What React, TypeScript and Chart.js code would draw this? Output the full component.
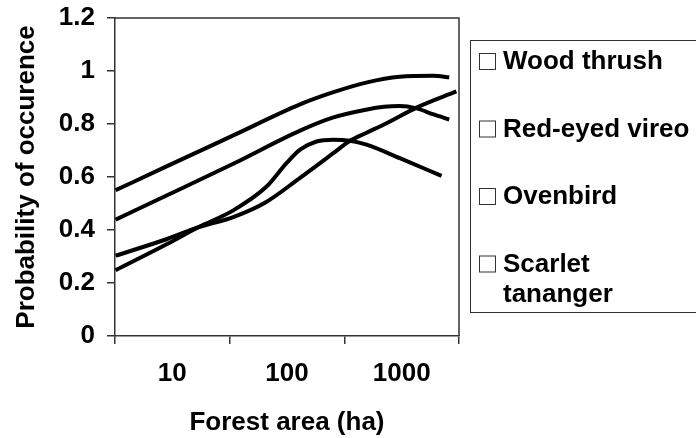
import React, { useEffect, useRef } from "react";
import { Chart, registerables } from "chart.js";

Chart.register(...registerables);

// ---- data ----
const categories = ["10", "100", "1000"];
const seriesNames = ["Wood thrush", "Red-eyed vireo", "Ovenbird", "Scarlet tananger"];

const woodThrushArea = [3.2, 9, 34, 130, 250, 500, 960, 1900, 2600];
const woodThrushP = [0.55, 0.641, 0.757, 0.874, 0.919, 0.957, 0.978, 0.982, 0.976];

const vireoArea = [3.2, 9, 34, 130, 250, 500, 700, 960, 1350, 1900, 2600];
const vireoP = [0.439, 0.531, 0.65, 0.775, 0.824, 0.855, 0.865, 0.868, 0.859, 0.836, 0.817];

const ovenbirdArea = [3.2, 9, 17, 34, 66, 130, 250, 350, 494, 700, 1350, 3000];
const ovenbirdP = [0.303, 0.366, 0.411, 0.449, 0.506, 0.597, 0.688, 0.735, 0.767, 0.798, 0.862, 0.923];

const tanagerArea = [3.2, 9, 17, 34, 66, 99, 130, 181, 252, 353, 494, 964, 2230];
const tanagerP = [0.248, 0.347, 0.411, 0.474, 0.563, 0.652, 0.703, 0.734, 0.741, 0.737, 0.722, 0.671, 0.604];

const yMin = 0;
const yMax = 1.2;
const yStep = 0.2;
const xTitle = "Forest area (ha)";
const yTitle = "Probability of occurence";

const FONT = "'Liberation Sans', Arial, sans-serif";

function toPoints(xs: number[], ys: number[]) {
  return xs.map((x, i) => ({ x, y: ys[i] }));
}

const legendPlugin = {
  id: "boxLegend",
  afterDraw(chart: any) {
    const ctx = chart.ctx;
    ctx.save();
    ctx.strokeStyle = "#333";
    ctx.lineWidth = 1;
    ctx.strokeRect(470.5, 40.5, 320, 272);
    ctx.font = "bold 26px " + FONT;
    ctx.fillStyle = "#000";
    ctx.textBaseline = "middle";
    ctx.textAlign = "left";
    const maxW = 196;
    seriesNames.forEach((name, i) => {
      const cy = 62 + i * 67.5;
      ctx.fillStyle = "#fff";
      ctx.fillRect(479.5, cy - 8.5, 16, 16);
      ctx.strokeStyle = "#333";
      ctx.strokeRect(479.5, cy - 8.5, 16, 16);
      ctx.fillStyle = "#000";
      const words = name.split(" ");
      const lines: string[] = [];
      let cur = "";
      words.forEach((w) => {
        const t = cur ? cur + " " + w : w;
        if (ctx.measureText(t).width > maxW && cur) {
          lines.push(cur);
          cur = w;
        } else cur = t;
      });
      lines.push(cur);
      lines.forEach((l, j) => ctx.fillText(l, 503, cy + j * 30));
    });
    ctx.restore();
  },
};

const framePlugin = {
  id: "frame",
  afterDatasetsDraw(chart: any) {
    const { ctx, chartArea } = chart;
    ctx.save();
    ctx.strokeStyle = "#333";
    ctx.lineWidth = 1.5;
    ctx.beginPath();
    ctx.moveTo(chartArea.left, chartArea.top);
    ctx.lineTo(chartArea.right, chartArea.top);
    ctx.lineTo(chartArea.right, chartArea.bottom);
    ctx.stroke();
    ctx.restore();
  },
};

export default function App() {
  const ref = useRef<HTMLCanvasElement | null>(null);
  useEffect(() => {
    document.body.style.margin = "0";
    if (!ref.current) return;
    const mk = (label: string, xs: number[], ys: number[]) => ({
      label,
      data: toPoints(xs, ys),
      xAxisID: "x2",
      borderColor: "#000",
      backgroundColor: "#000",
      borderWidth: 4,
      pointRadius: 0,
      cubicInterpolationMode: "monotone" as const,
      fill: false,
    });
    const chart = new Chart(ref.current, {
      type: "line",
      data: {
        labels: categories,
        datasets: [
          mk(seriesNames[0], woodThrushArea, woodThrushP),
          mk(seriesNames[1], vireoArea, vireoP),
          mk(seriesNames[2], ovenbirdArea, ovenbirdP),
          mk(seriesNames[3], tanagerArea, tanagerP),
        ],
      },
      options: {
        animation: false,
        responsive: false,
        devicePixelRatio: 1,
        layout: { padding: { top: 18, right: 237, left: 0, bottom: 0 } },
        plugins: { legend: { display: false }, tooltip: { enabled: false } },
        scales: {
          x: {
            type: "category",
            offset: true,
            grid: { offset: true, drawOnChartArea: false, drawTicks: true, tickLength: 8, color: "#333", lineWidth: 1.5 },
            border: { display: true, color: "#333", width: 1.5 },
            ticks: { color: "#000", font: { family: FONT, size: 26, weight: "bold" }, padding: 14, maxRotation: 0 },
            title: { display: true, text: xTitle, color: "#000", font: { family: FONT, size: 26, weight: "bold" }, padding: { top: 0, bottom: 0 } },
            afterFit(scale: any) {
              scale.height = 102;
              scale.paddingLeft = 0;
              scale.paddingRight = 0;
            },
          },
          x2: {
            type: "logarithmic",
            display: false,
            min: Math.pow(10, 0.5),
            max: Math.pow(10, 3.5),
          },
          y: {
            min: yMin,
            max: yMax,
            ticks: {
              stepSize: yStep,
              color: "#000",
              font: { family: FONT, size: 26, weight: "bold" },
              padding: 12,
              callback: (v: any) => String(Math.round(Number(v) * 10) / 10),
            },
            grid: { drawOnChartArea: false, drawTicks: true, tickLength: 8, color: "#333", lineWidth: 1.5 },
            border: { display: true, color: "#333", width: 1.5 },
            title: { display: true, text: yTitle, color: "#000", font: { family: FONT, size: 26, weight: "bold" }, padding: { top: 11, bottom: 0 } },
            afterFit(scale: any) {
              scale.width = 115;
              scale.paddingTop = 0;
              scale.paddingBottom = 0;
            },
          },
        },
      },
      plugins: [framePlugin, legendPlugin],
    });
    return () => chart.destroy();
  }, []);
  return (
    <div style={{ width: 696, height: 438, position: "relative" }}>
      <canvas ref={ref} width={696} height={438} style={{ display: "block" }} />
    </div>
  );
}
